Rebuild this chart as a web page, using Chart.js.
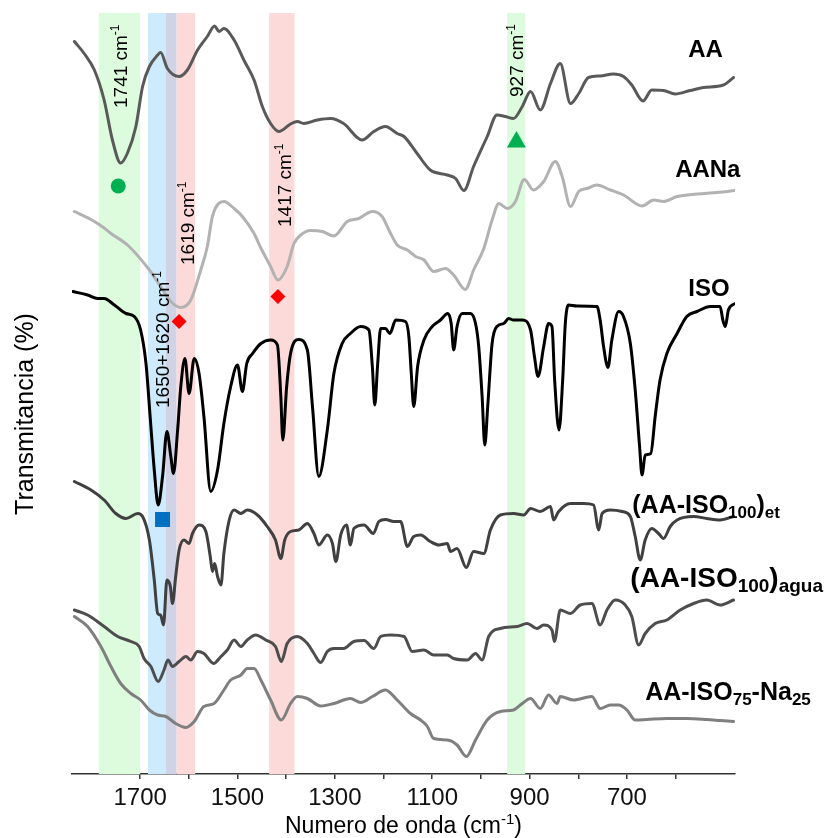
<!DOCTYPE html>
<html>
<head>
<meta charset="utf-8">
<script src="https://cdn.jsdelivr.net/npm/chart.js@4.4.1/dist/chart.umd.min.js"></script>
<style>
  html, body { margin: 0; padding: 0; background: #ffffff; }
  #wrap { width: 831px; height: 838px; }
</style>
</head>
<body>
<div id="wrap"><canvas id="c" width="831" height="838"></canvas></div>
<script>
// ---- Data (wavenumber cm-1, offset transmittance) ----
const AA = [[1835,146.5],[1815,144.1],[1794,140.8],[1774,134.8],[1757,126.8],[1740,122.2],[1726,124.2],[1709,129.4],[1695,137.5],[1681,141.5],[1664,143.8],[1658,144.3],[1644,141.1],[1620,139.5],[1603,140.8],[1582,144.8],[1562,147.5],[1547,149.6],[1538,148.5],[1528,149.1],[1507,146.8],[1487,142.8],[1466,138.8],[1449,133.5],[1432,130.1],[1415,128.5],[1391,130],[1377,130.5],[1364,130.1],[1336,130.8],[1309,131.1],[1282,130.1],[1244,126.8],[1220,128.5],[1196,129.5],[1172,128.1],[1158,127.5],[1131,124.1],[1104,120.8],[1069,119.8],[1052,119.1],[1035,116.7],[1015,121.5],[987,127.5],[967,131.8],[950,131.5],[933,131.1],[915,133.5],[898,136.5],[878,132.8],[857,138.1],[837,142.1],[816,134.1],[799,136.1],[779,139.3],[755,139.6],[728,140],[707,139.5],[690,137.8],[667,134.6],[649,136.8],[625,136.7],[601,136],[570,136.7],[543,137.3],[502,137.8],[481,139.3]];

const AANa = [[1835,112.5],[1794,110.5],[1774,109.2],[1760,108.1],[1726,105.8],[1681,100.8],[1658,97.5],[1637,94.5],[1616.5,93.3],[1596,94.8],[1575.5,100.8],[1562,105.5],[1551.5,111.5],[1528,114.5],[1507,113.1],[1490,111.5],[1466,108.1],[1452,105.2],[1432,101.5],[1417,98.8],[1398,101.5],[1384,106.1],[1370,107.8],[1350,108.7],[1326,108.5],[1302,107.6],[1274.5,110.5],[1251,111.1],[1223,112.5],[1203,111.5],[1189,108.8],[1172,105.8],[1151,104.8],[1134,103.5],[1117,102.8],[1097,100.5],[1073,101.1],[1056,99.8],[1032,96.9],[1015,100.8],[994,105.1],[977,110.8],[963,114.1],[946,113.1],[929,114.5],[911,118.9],[892,116.8],[871,118.5],[847,122.5],[833,119.5],[816,113.5],[799,116.5],[782,117.1],[762,117.8],[734,116.8],[707,115.8],[669,113.6],[645,114.8],[625,114.5],[597,115.5],[556,116],[515,116.3],[478,116.7]];

const ISO = [[1838,96.5],[1808,95.8],[1787,95.1],[1774,95.1],[1753,93.8],[1729,92.1],[1712,91.5],[1699,88.8],[1688,82.1],[1679.5,71.5],[1671,60.8],[1663,53.8],[1654,59.5],[1645,68.5],[1637,63.5],[1631.5,60.1],[1623,68.8],[1616.5,77.5],[1608,83.1],[1599.5,76.1],[1589,83.1],[1579,80.1],[1569,71.5],[1555,56.5],[1541,60.8],[1528,70.1],[1514,77.5],[1500,81.8],[1490,76.5],[1481,82.1],[1469,84.1],[1452,86.1],[1432,86.8],[1418,85.8],[1411,75.5],[1407,66.8],[1399,77.5],[1391,84.1],[1374,86.9],[1356.5,84.8],[1346,73.5],[1333,59.5],[1315.5,68.8],[1302,80.1],[1285,86.1],[1268,88.1],[1247,89.5],[1230,88.8],[1223,81.5],[1218,73.8],[1212,82.1],[1206,89.1],[1196,89.1],[1187,88.1],[1175,90.8],[1155,90.5],[1148,87.5],[1143,80.1],[1138,73.5],[1130,81.5],[1117,86.8],[1100,89.5],[1083,90.8],[1068,92.1],[1061,90.1],[1056,84.8],[1049,89.5],[1038.5,92.1],[1021.5,92.1],[1011,90.1],[1004.5,85.5],[997.5,75.5],[992,65.8],[986,73.5],[977,86.1],[967,89.5],[953,90.1],[943,91.1],[933,90.8],[915,90.8],[898,88.8],[890,83.5],[882.6,79.5],[871,85.5],[861,90.1],[854,89.5],[848.5,78.8],[839.5,68.8],[832,78.8],[826.6,90.1],[820,93.8],[802.6,93.6],[761.5,93.5],[755,90.8],[748,85.5],[739,81.3],[731,86.8],[717,92.5],[707,91.5],[693,86.1],[683,76.8],[674,65.5],[669,59.8],[662.5,63.8],[651,64.1],[642,71.5],[632,78.8],[618,84.1],[597,88.1],[577,91.5],[556,92.5],[529,93.5],[508.6,93.5],[503,90.8],[498,89.5],[491.5,92.8],[478,94.1]];

const ET = [[1835,58.5],[1801,56.8],[1774,54.8],[1750,52.1],[1729,51.1],[1705,52.1],[1695,51.5],[1681,46.8],[1671,38.8],[1664,32.1],[1658,31.8],[1652,29.8],[1645,38.8],[1638,37.5],[1633.5,34.1],[1627,39.5],[1620,44.8],[1610,46.8],[1599.5,46.1],[1592.5,48.1],[1579,49.8],[1565,48.5],[1556,43.5],[1551.5,40.5],[1547,42.1],[1541,39.5],[1534,37.8],[1528,44.1],[1517,50.8],[1507,52.8],[1493,52.1],[1480,52.8],[1459,51.8],[1439,49.5],[1422,46.8],[1411,43.1],[1403,46.8],[1391,48.5],[1374,48.8],[1356.5,50.1],[1343,48.1],[1333,45.8],[1315.5,47.8],[1305,46.1],[1298,42.5],[1288,47.8],[1276,49.8],[1268,45.8],[1261,49.1],[1240,49.8],[1221,48.1],[1209.6,50.5],[1196,50.9],[1179,50.5],[1165,50.5],[1151,45.5],[1138,47.5],[1124,47.8],[1104,46.5],[1086.5,45.8],[1069,46.1],[1062.5,44.5],[1049,45.1],[1030,41.3],[1015,44.5],[994,44.1],[980.5,48.8],[960,51.8],[933,52.1],[912,51.8],[898,53.1],[878,52.5],[857,53.5],[850.6,50.8],[841,52.4],[816,54.1],[789,54.1],[768.5,53.8],[758,48.8],[751,52.1],[734,52.8],[710,52.5],[693,51.5],[683,47.5],[672.7,42.8],[662.5,46.8],[649,49.1],[635,48.1],[625,47.1],[611,49.5],[597,50.8],[563,51.5],[536,51.1],[508.6,50.8],[481,51.5]];

const AGUA = [[1835,32.8],[1808,31.8],[1774,29.5],[1746,27.5],[1719,26.5],[1702,25.5],[1692,23.1],[1678,21.5],[1663,18.5],[1651,20.8],[1643,22.8],[1633.5,21.5],[1620,22.5],[1606,23.5],[1596,22.8],[1582,24.5],[1569,24.1],[1549,22.1],[1534,23.5],[1521,24.8],[1507,26.8],[1493,25.5],[1480,26.8],[1462.6,27.8],[1442,26.8],[1422,25.5],[1410,22.5],[1398,26.1],[1377,27.5],[1356.5,26.1],[1343,24.1],[1329,22.3],[1315.5,24.5],[1302,25.1],[1282,25.1],[1261,26.5],[1240,26.7],[1220,25.1],[1206,27.5],[1185.6,27.8],[1158,27.5],[1141,24.5],[1117,24.8],[1097,23.8],[1069,23.8],[1056,23.1],[1028,22.8],[1011,24.1],[997.5,22.8],[984,27.5],[960,29.1],[925.7,29.5],[905,30.1],[884.7,29.1],[871,29.8],[854,28.8],[849,26.5],[837,32.8],[816,32.1],[796,33.8],[772,34.1],[755,29.8],[741,32.8],[724,34.8],[703.5,33.8],[690,31.5],[676,25.8],[662.5,28.1],[642,30.1],[618,30.8],[590.6,32.8],[563,34.1],[536,34.8],[508.6,33.8],[481,34.8]];

const NA = [[1835,31.5],[1808,29.5],[1780.6,25.5],[1760,21.5],[1740,18.1],[1719,16.1],[1699,14.8],[1681,12.8],[1664,11.8],[1647,11.5],[1627,10.1],[1606,9.3],[1589,10.5],[1569,13.5],[1548,14.1],[1528,16.8],[1514,18.8],[1493,19.8],[1480,21.1],[1466,21.1],[1452,18.8],[1432,14.8],[1410,10.8],[1391,14.1],[1377,15.5],[1356.5,15.1],[1329,13.6],[1302,14.1],[1268,15.1],[1247,14.3],[1223,15.5],[1196,16.8],[1172,14.8],[1144.6,12.1],[1124,10.8],[1110,9.5],[1097,7.1],[1069,6.8],[1049,5.8],[1030,3.5],[1011,6.8],[987,10.8],[960,12.5],[933,12.8],[915,14.1],[898,15.1],[878,13.1],[861,15.8],[843.6,14.1],[837,15.5],[809.6,14.8],[772,15.5],[755,13.1],[734,13.8],[717,13.8],[700,12.8],[683,10.8],[659,10.9],[618,11.1],[577,11.1],[536,10.9],[508.6,10.7],[481,10.5]];

// Marker annotations (band assignments)
const CIRCLE_PTS   = [[1745,117.6]];
const TRIANGLE_PTS = [[927,126.4]];
const DIAMOND_PTS  = [[1620,90.5],[1417,95.5]];
const SQUARE_PTS   = [[1654,50.9]];

// Highlighted bands [from, to] in cm-1
const BAND_GREEN = [[1785,1700],[946,909]];
const BAND_BLUE  = [[1684,1647]];
const BAND_MIX   = [[1647,1625]];
const BAND_PINK  = [[1625,1587],[1435,1383]];

// Tick labels
const X_LABELS = [1700,1500,1300,1100,900,700];

// Rotated band labels: [text, superscript, wavenumber anchor, value anchor]
const BAND_LABELS = [
  ['1741 cm', '-1', 1728, 133.2],
  ['1619 cm', '-1', 1590, 101.8],
  ['1417 cm', '-1', 1391, 109.4],
  ['927 cm', '-1', 913, 135.4],
  ['1650+1620 cm', '-1', 1640.5, 73.2]
];

// Series labels anchor [wavenumber, value]
const SERIES_LABELS = [
  {parts:[['AA',24,0]], at:[574,143.4]},
  {parts:[['AANa',24,0]], at:[601,119.4]},
  {parts:[['ISO',24,0]], at:[574,95.6]},
  {parts:[['(AA-ISO',25,0],['100',17,5],[')',25,0],['et',17,5]], at:[689,52.2]},
  {parts:[['(AA-ISO',28,0],['100',19,5],[')',28,0],['agua',19,5]], at:[693,37.4]},
  {parts:[['AA-ISO',25,0],['75',17,5],['-Na',25,0],['25',17,5]], at:[662.5,14.8]}
];

const FONT = '"Liberation Sans", Arial, Helvetica, sans-serif';
const toXY = arr => arr.map(p => ({x: p[0], y: p[1]}));

function lineDs(data, color) {
  return {
    type: 'line', data: toXY(data), borderColor: color, borderWidth: 3,
    pointRadius: 0, fill: false, cubicInterpolationMode: 'monotone',
    borderJoinStyle: 'round', borderCapStyle: 'round', order: 2
  };
}
function markDs(data, style, color, r) {
  return {
    type: 'scatter', data: toXY(data), pointStyle: style, pointRadius: r,
    backgroundColor: color, borderColor: color, borderWidth: 0, showLine: false, order: 1
  };
}

const bandsPlugin = {
  id: 'bands',
  beforeDatasetsDraw(chart) {
    const {ctx, chartArea, scales: {x}} = chart;
    const draw = (list, color) => {
      ctx.fillStyle = color;
      list.forEach(([a, b]) => {
        const x1 = x.getPixelForValue(a), x2 = x.getPixelForValue(b);
        ctx.fillRect(Math.min(x1, x2), chartArea.top, Math.abs(x2 - x1), chartArea.bottom - chartArea.top);
      });
    };
    ctx.save();
    draw(BAND_GREEN, 'rgb(221,251,221)');
    draw(BAND_BLUE, 'rgb(205,235,252)');
    draw(BAND_MIX, 'rgb(208,211,230)');
    draw(BAND_PINK, 'rgb(253,218,218)');
    ctx.restore();
  }
};

function drawParts(ctx, x0, y0, parts, weight) {
  let cx = x0;
  parts.forEach(([t, s, dy]) => {
    ctx.font = `${weight} ${s}px ${FONT}`;
    ctx.fillText(t, cx, y0 + dy);
    cx += ctx.measureText(t).width;
  });
  return cx - x0;
}

const textPlugin = {
  id: 'texts',
  afterDatasetsDraw(chart) {
    const {ctx, chartArea, scales: {x, y}} = chart;
    ctx.save();
    ctx.fillStyle = '#000';
    ctx.textBaseline = 'alphabetic';
    ctx.textAlign = 'left';
    SERIES_LABELS.forEach(l => {
      drawParts(ctx, x.getPixelForValue(l.at[0]), y.getPixelForValue(l.at[1]), l.parts, 'bold');
    });
    BAND_LABELS.forEach(([t, sup, wn, v]) => {
      ctx.save();
      ctx.translate(x.getPixelForValue(wn), y.getPixelForValue(v));
      ctx.rotate(-Math.PI / 2);
      drawParts(ctx, 0, 0, [[t, 19, 0], [sup, 12, -8]], 'normal');
      ctx.restore();
    });
    // x axis title with superscript
    const parts = [['Numero de onda (cm', 23, 0], ['-1', 15, -9], [')', 23, 0]];
    let w = 0;
    parts.forEach(([t, s]) => { ctx.font = `normal ${s}px ${FONT}`; w += ctx.measureText(t).width; });
    const cx = (chartArea.left + chartArea.right) / 2;
    drawParts(ctx, cx - w / 2, 833, parts, 'normal');
    // y axis title
    ctx.save();
    ctx.translate(33, 414);
    ctx.rotate(-Math.PI / 2);
    ctx.textAlign = 'center';
    ctx.font = `normal 25px ${FONT}`;
    ctx.fillText('Transmitancia (%)', 0, 0);
    ctx.restore();
    ctx.restore();
  }
};

new Chart(document.getElementById('c'), {
  type: 'scatter',
  data: {
    datasets: [
      lineDs(AA, '#595959'),
      lineDs(AANa, '#b2b2b2'),
      lineDs(ISO, '#000000'),
      lineDs(ET, '#404040'),
      lineDs(AGUA, '#4d4d4d'),
      lineDs(NA, '#7f7f7f'),
      markDs(CIRCLE_PTS, 'circle', '#00b050', 7.5),
      markDs(TRIANGLE_PTS, 'triangle', '#00b050', 11),
      markDs(DIAMOND_PTS, 'rectRot', '#ff0000', 7.5),
      markDs(SQUARE_PTS, 'rect', '#0070c0', 10.6)
    ]
  },
  options: {
    responsive: false,
    animation: false,
    layout: { padding: { left: 72, right: 96, top: 13, bottom: 0 } },
    plugins: { legend: { display: false }, tooltip: { enabled: false } },
    scales: {
      x: {
        type: 'linear', reverse: true, min: 478, max: 1840,
        afterBuildTicks: ax => { ax.ticks = ax.ticks.filter(t => Math.abs(t.value % 100) < 1e-6); },
        afterFit: sc => { sc.height = 64; },
        ticks: {
          stepSize: 100, autoSkip: false, maxRotation: 0, minRotation: 0,
          padding: 5, color: '#111',
          font: { family: FONT, size: 24 },
          callback: v => X_LABELS.includes(v) ? String(v) : ''
        },
        grid: { drawOnChartArea: false, drawTicks: true, tickLength: 5, color: '#333', lineWidth: 1.5 },
        border: { display: true, color: '#333', width: 1.5 }
      },
      y: { display: false, min: 0, max: 152.2 }
    }
  },
  plugins: [bandsPlugin, textPlugin]
});
</script>
</body>
</html>
